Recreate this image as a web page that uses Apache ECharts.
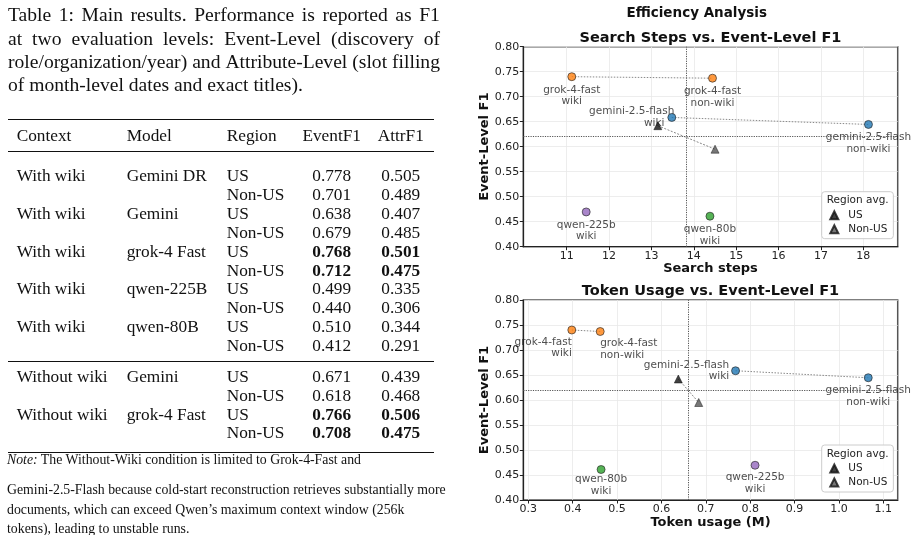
<!DOCTYPE html>
<html>
<head>
<meta charset="utf-8">
<script src="https://cdn.jsdelivr.net/npm/echarts@6/dist/echarts.min.js"></script>
<style>
html, body { margin: 0; padding: 0; background: #fff; }
#chart { position: absolute; left: 0; top: 0; width: 917px; height: 535px; }
#paper { position: absolute; left: 0; top: 0; width: 460px; height: 535px; z-index: 2;
  font-family: "Liberation Serif", "Times New Roman", serif; color: #111; }
.capline { position: absolute; left: 8px; width: 432px; height: 24px; line-height: 24px; font-size: 19.6px;
  display: flex; justify-content: space-between; white-space: nowrap; }
.cell { position: absolute; height: 20px; line-height: 20px; font-size: 17.3px; white-space: nowrap; }
.num { width: 70px; margin-left: -35px; text-align: center; }
.rule { position: absolute; left: 8px; width: 426px; background: #111; }
.note { position: absolute; left: 7px; font-size: 13.8px; height: 20px; line-height: 20px; white-space: nowrap; }
</style>
</head>
<body>
<div id="chart"></div>
<div id="paper"></div>
<script>
// ---- table data ----
var captionLines = [
  'Table 1: Main results.  Performance is reported as F1',
  'at two evaluation levels:  Event-Level (discovery of',
  'role/organization/year) and Attribute-Level (slot filling',
  'of month-level dates and exact titles).'
];
var tableHeader = ['Context', 'Model', 'Region', 'EventF1', 'AttrF1'];
var tableContext = ['With wiki', '', 'With wiki', '', 'With wiki', '', 'With wiki', '', 'With wiki', '',
                    'Without wiki', '', 'Without wiki', ''];
var tableModel = ['Gemini DR', '', 'Gemini', '', 'grok-4 Fast', '', 'qwen-225B', '', 'qwen-80B', '',
                  'Gemini', '', 'grok-4 Fast', ''];
var tableRegion = ['US', 'Non-US', 'US', 'Non-US', 'US', 'Non-US', 'US', 'Non-US', 'US', 'Non-US',
                   'US', 'Non-US', 'US', 'Non-US'];
var tableEventF1 = ['0.778', '0.701', '0.638', '0.679', '0.768', '0.712', '0.499', '0.440', '0.510', '0.412',
                    '0.671', '0.618', '0.766', '0.708'];
var tableAttrF1 = ['0.505', '0.489', '0.407', '0.485', '0.501', '0.475', '0.335', '0.306', '0.344', '0.291',
                   '0.439', '0.468', '0.506', '0.475'];
var tableBold = [false, false, false, false, true, true, false, false, false, false, false, false, true, true];
var noteLines = [
  '<i>Note:</i> The Without-Wiki condition is limited to Grok-4-Fast and',
  'Gemini-2.5-Flash because cold-start reconstruction retrieves substantially more',
  'documents, which can exceed Qwen\u2019s maximum context window (256k',
  'tokens), leading to unstable runs.'
];

// ---- chart data ----
var stepTicks = [11, 12, 13, 14, 15, 16, 17, 18];
var tokenTicks = [0.3, 0.4, 0.5, 0.6, 0.7, 0.8, 0.9, 1.0, 1.1];
var f1Ticks = [0.40, 0.45, 0.50, 0.55, 0.60, 0.65, 0.70, 0.75, 0.80];
var modelNames = ['grok-4-fast\nwiki', 'grok-4-fast\nnon-wiki', 'gemini-2.5-flash\nwiki',
                  'gemini-2.5-flash\nnon-wiki', 'qwen-225b\nwiki', 'qwen-80b\nwiki'];
var modelSteps = [11.12, 14.44, 13.48, 18.12, 11.46, 14.38];
var modelTokens = [0.398, 0.462, 0.767, 1.066, 0.811, 0.464];
var modelF1 = [0.740, 0.737, 0.6585, 0.6445, 0.4695, 0.461];
var pairs = [[0, 1], [2, 3]];
var regionNames = ['US', 'Non-US'];
var regionSteps = [13.15, 14.50];
var regionTokens = [0.638, 0.684];
var regionF1 = [0.642, 0.595];

// ---- build the table ----
var paper = document.getElementById('paper');
function add(cls, html, css) {
  var d = document.createElement('div');
  d.className = cls;
  d.innerHTML = html;
  for (var k in css) d.style[k] = css[k];
  paper.appendChild(d);
  return d;
}
captionLines.forEach(function (line, i) {
  var words = line.split(/\s+/);
  var html = words.map(function (w) { return '<span>' + w + '</span>'; }).join('');
  var d = add('capline', html, { top: (3.3 + i * 23.3) + 'px' });
  if (i === captionLines.length - 1) { d.style.justifyContent = 'flex-start'; d.style.gap = '4.9px'; }
});
var colLeft = [16.7, 126.7, 226.7];
var colMid = [331.7, 400.8];
function rowCells(y, vals, bold) {
  for (var c = 0; c < 3; c++) {
    if (vals[c]) add('cell', vals[c], { left: colLeft[c] + 'px', top: (y - 10) + 'px' });
  }
  for (var c2 = 0; c2 < 2; c2++) {
    add('cell num', vals[3 + c2], { left: colMid[c2] + 'px', top: (y - 10) + 'px', fontWeight: bold ? 'bold' : 'normal' });
  }
}
rowCells(135.7, tableHeader, false);
for (var r = 0; r < tableRegion.length; r++) {
  var y = r < 10 ? 176 + r * 18.9 : 376.7 + (r - 10) * 18.9;
  rowCells(y, [tableContext[r], tableModel[r], tableRegion[r], tableEventF1[r], tableAttrF1[r]], tableBold[r]);
}
add('rule', '', { top: '118.5px', height: '1.6px' });
add('rule', '', { top: '150.5px', height: '0.9px' });
add('rule', '', { top: '361.2px', height: '0.9px' });
add('rule', '', { top: '451.9px', height: '1.6px' });
var noteY = [460, 490, 510, 529];
noteLines.forEach(function (line, i) {
  add('note', line, { top: (noteY[i] - 10) + 'px' });
});

// ---- chart ----
var myChart = echarts.init(document.getElementById('chart'));

var modelColors = ['#ff7f0e', '#ff7f0e', '#1f77b4', '#1f77b4', '#9467bd', '#2ca02c'];
var labelFont = { fontSize: 10.5, lineHeight: 11.5, color: '#222' };

// label placement per panel
var placeSteps = [
  { pos: 'bottom', d: 3 }, { pos: 'bottom', d: 3 }, { pos: 'left', d: -7, pad: 10 },
  { pos: 'bottom', d: 3 }, { pos: 'bottom', d: 3 }, { pos: 'bottom', d: 3 }
];
var placeTokens = [
  { pos: 'bottom', d: 2, align: 'right' }, { pos: 'bottom', d: 2, align: 'left' }, { pos: 'left', d: 2 },
  { pos: 'bottom', d: 2.5 }, { pos: 'bottom', d: 2 }, { pos: 'bottom', d: 0 }
];

function mean(a) { return a.reduce(function (s, v) { return s + v; }, 0) / a.length; }

function modelData(xs, place) {
  return xs.map(function (x, i) {
    var p = place[i];
    var lab = { show: true, position: p.pos, distance: p.d, fontSize: 10.5, lineHeight: 11.5, color: '#222',
                formatter: '{b}' };
    if (p.align) lab.align = p.align;
    if (p.pad) {
      var parts = modelNames[i].split('\n');
      lab.formatter = '{a|' + parts[0] + '}\n{b|' + parts[1] + '}';
      lab.rich = { a: labelFont, b: echarts.util.extend({ padding: [0, p.pad, 0, 0] }, labelFont) };
    }
    return { name: modelNames[i], value: [x, modelF1[i]], itemStyle: { color: modelColors[i] }, label: lab };
  });
}

function panelSeries(idx, xs, rx, place) {
  var list = [];
  pairs.forEach(function (pr, k) {
    var s = {
      type: 'line', xAxisIndex: idx, yAxisIndex: idx, symbol: 'none', silent: true, z: 1,
      lineStyle: { color: '#888', width: 1, type: [1.5, 1.5] },
      data: pr.map(function (j) { return [xs[j], modelF1[j]]; })
    };
    if (k === 0) {
      s.markLine = {
        silent: true, symbol: 'none', label: { show: false },
        lineStyle: { color: '#555', width: 1, type: [1.2, 1.2] },
        data: [{ xAxis: mean(xs) }, { yAxis: mean(modelF1) }]
      };
    }
    list.push(s);
  });
  list.push({
    type: 'line', xAxisIndex: idx, yAxisIndex: idx, symbol: 'none', silent: true, z: 1,
    lineStyle: { color: '#888', width: 1, type: [2, 1.5] },
    data: rx.map(function (x, j) { return [x, regionF1[j]]; })
  });
  list.push({
    type: 'scatter', xAxisIndex: idx, yAxisIndex: idx, symbol: 'circle', symbolSize: 8, z: 3,
    itemStyle: { borderColor: '#222', borderWidth: 0.8 },
    data: modelData(xs, place)
  });
  var triColors = ['#111', '#555'];
  regionNames.forEach(function (nm, j) {
    list.push({
      name: nm, type: 'scatter', xAxisIndex: idx, yAxisIndex: idx, symbol: 'triangle', symbolSize: 8, z: 4,
      itemStyle: { color: triColors[j], borderColor: '#111', borderWidth: 0.6 },
      data: [[rx[j], regionF1[j]]]
    });
  });
  return list;
}

function xAxisCfg(idx, min, max, ticks, dec, title) {
  return {
    type: 'value', gridIndex: idx, min: min, max: max,
    name: title, nameLocation: 'middle', nameGap: 14,
    nameTextStyle: { fontSize: 13, fontWeight: 'bold', color: '#111' },
    axisLine: { show: true, lineStyle: { color: '#222', width: 1.2 } },
    axisTick: { show: true, length: 3.5, customValues: ticks, lineStyle: { color: '#222' } },
    axisLabel: { customValues: ticks, fontSize: 11, color: '#222', margin: 4,
      formatter: function (v) { return v.toFixed(dec); } },
    splitLine: { show: true, lineStyle: { color: '#e8e8e8', width: 0.8 } }
  };
}
function yAxisCfg(idx) {
  return {
    type: 'value', gridIndex: idx, min: 0.40, max: 0.80, interval: 0.05,
    name: 'Event-Level F1', nameLocation: 'middle', nameGap: 30,
    nameTextStyle: { fontSize: 13, fontWeight: 'bold', color: '#111' },
    axisLine: { show: true, lineStyle: { color: '#222', width: 1.2 } },
    axisTick: { show: true, length: 3.5, lineStyle: { color: '#222' } },
    axisLabel: { fontSize: 11, color: '#222', margin: 4,
      formatter: function (v) { return v.toFixed(2); } },
    splitLine: { show: true, lineStyle: { color: '#e8e8e8', width: 0.8 } }
  };
}
function legendCfg(top) {
  return {
    data: regionNames, orient: 'vertical', left: 821.7, top: top, padding: [18, 6, 4, 7.6],
    itemWidth: 8, itemHeight: 8, itemGap: 3, selectedMode: false,
    backgroundColor: 'rgba(255,255,255,0.85)', borderColor: '#ccc', borderWidth: 1, borderRadius: 3,
    textStyle: { fontSize: 10.5, color: '#222', padding: [0, 0, 0, 5] }
  };
}

var option = {
  animation: false,
  textStyle: { fontFamily: 'DejaVu Sans' },
  grid: [
    { left: 523.3, top: 46.7, width: 374.4, height: 200, show: true, borderColor: '#555', borderWidth: 1.5, outerBoundsMode: 'none', containLabel: false },
    { left: 523.3, top: 300, width: 374.4, height: 200, show: true, borderColor: '#555', borderWidth: 1.5, outerBoundsMode: 'none', containLabel: false }
  ],
  xAxis: [
    xAxisCfg(0, 9.976, 18.81, stepTicks, 0, 'Search steps'),
    xAxisCfg(1, 0.2887, 1.1324, tokenTicks, 1, 'Token usage (M)')
  ],
  yAxis: [yAxisCfg(0), yAxisCfg(1)],
  legend: [legendCfg(191.7), legendCfg(445)],
  graphic: [
    { type: 'text', x: 696.7, y: 13.3, style: { text: 'Efficiency Analysis', fontSize: 13.5, fontWeight: 'bold', fill: '#111', align: 'center', verticalAlign: 'middle', fontFamily: 'DejaVu Sans' } },
    { type: 'text', x: 710.5, y: 38.3, style: { text: 'Search Steps vs. Event-Level F1', fontSize: 14.5, fontWeight: 'bold', fill: '#111', align: 'center', verticalAlign: 'middle', fontFamily: 'DejaVu Sans' } },
    { type: 'text', x: 710.5, y: 291, style: { text: 'Token Usage vs. Event-Level F1', fontSize: 14.5, fontWeight: 'bold', fill: '#111', align: 'center', verticalAlign: 'middle', fontFamily: 'DejaVu Sans' } },
    { type: 'text', x: 826.7, y: 200.7, z: 100, style: { text: 'Region avg.', fontSize: 10.5, fill: '#222', align: 'left', verticalAlign: 'middle', fontFamily: 'DejaVu Sans' } },
    { type: 'text', x: 826.7, y: 454, z: 100, style: { text: 'Region avg.', fontSize: 10.5, fill: '#222', align: 'left', verticalAlign: 'middle', fontFamily: 'DejaVu Sans' } }
  ],
  series: panelSeries(0, modelSteps, regionSteps, placeSteps)
    .concat(panelSeries(1, modelTokens, regionTokens, placeTokens))
};

myChart.setOption(option);
</script>
</body>
</html>
